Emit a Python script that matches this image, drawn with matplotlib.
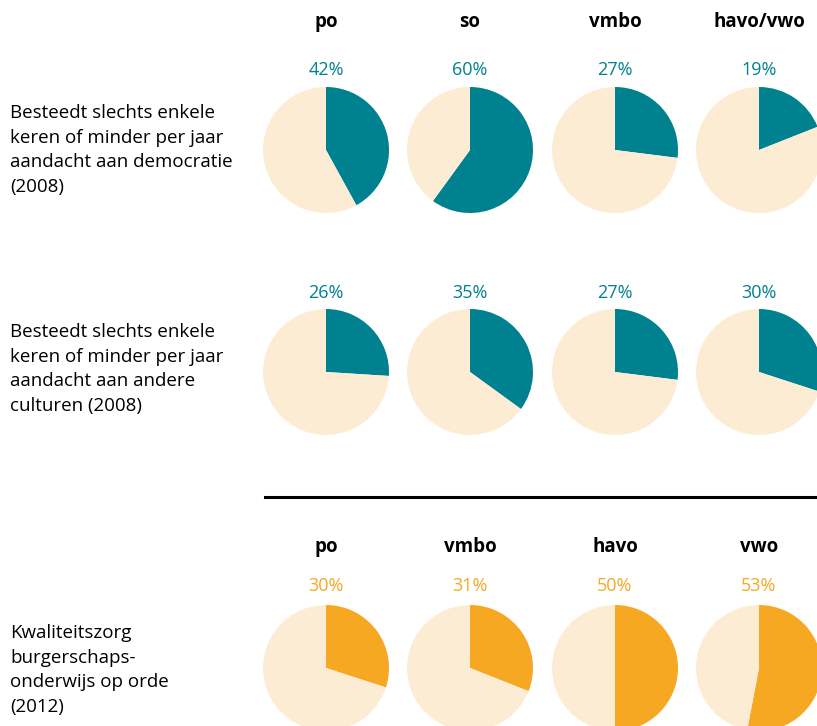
import matplotlib
matplotlib.use("Agg")
import matplotlib.pyplot as plt

W, H = 817, 726
TEAL = "#00818f"
ORANGE = "#f6a823"
CREAM = "#fdecd4"

headers_top = ["po", "so", "vmbo", "havo/vwo"]
headers_bottom = ["po", "vmbo", "havo", "vwo"]
democratie_2008 = [42, 60, 27, 19]
culturen_2008 = [26, 35, 27, 30]
kwaliteit_2012 = [30, 31, 50, 53]
row_labels = [
    "Besteedt slechts enkele\nkeren of minder per jaar\naandacht aan democratie\n(2008)",
    "Besteedt slechts enkele\nkeren of minder per jaar\naandacht aan andere\nculturen (2008)",
    "Kwaliteitszorg\nburgerschaps-\nonderwijs op orde\n(2012)",
]

plt.rcParams["font.family"] = ["Open Sans", "DejaVu Sans"]
fig = plt.figure(figsize=(W / 100, H / 100), dpi=100)
bg = fig.add_axes([0, 0, 1, 1])
bg.set_xlim(0, W)
bg.set_ylim(H, 0)
bg.axis("off")

col_x = [326, 470, 615, 759]
R = 63


def pie_at(cx, cy, value, color):
    ax = fig.add_axes([(cx - R) / W, 1 - (cy + R) / H, 2 * R / W, 2 * R / H])
    ax.pie([value, 100 - value], colors=[color, CREAM], startangle=90,
           counterclock=False, radius=1, wedgeprops=dict(linewidth=0))
    ax.set_xlim(-1, 1)
    ax.set_ylim(-1, 1)
    ax.set_aspect("auto")
    ax.axis("off")


rows = [
    (democratie_2008, TEAL, 150, 70, 150),
    (culturen_2008, TEAL, 372, 293, 369),
    (kwaliteit_2012, ORANGE, 668, 586, 670),
]
for (vals, color, cy, py, ly), label in zip(rows, row_labels):
    for x, v in zip(col_x, vals):
        pie_at(x, cy, v, color)
        bg.text(x, py, f"{v}%", color=color, fontsize=13, ha="center", va="center")
    bg.text(10, ly, label, fontsize=13.5, ha="left", va="center", linespacing=1.48)

for x, h in zip(col_x, headers_top):
    bg.text(x, 22, h, fontsize=13.5, fontweight="bold", ha="center", va="center")
for x, h in zip(col_x, headers_bottom):
    bg.text(x, 547, h, fontsize=13.5, fontweight="bold", ha="center", va="center")

bg.plot([265, W], [497, 497], color="black", linewidth=2.2)

fig.savefig("out.png", dpi=100)
